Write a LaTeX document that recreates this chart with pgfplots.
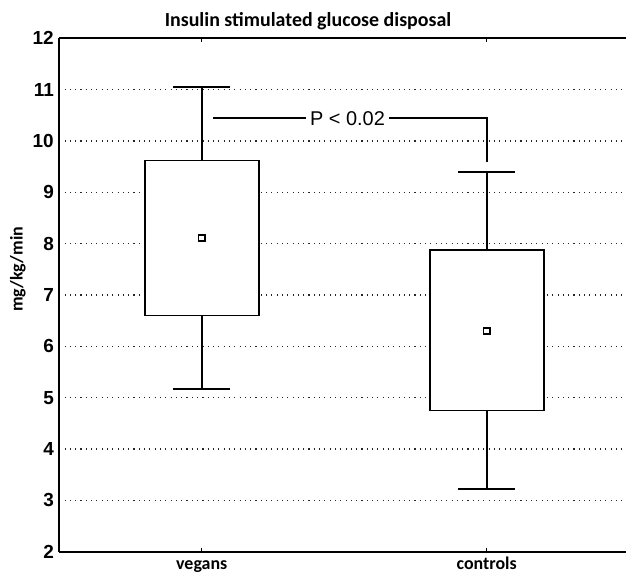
\documentclass[border=0pt]{standalone}
\usepackage{fontspec}
\setmainfont{Carlito}
\newfontfamily\arialf{Liberation Sans}
\usepackage{pgfplots}
\pgfplotsset{compat=1.18}

\begin{document}
\begin{tikzpicture}
\begin{axis}[
  scale only axis,
  width=566.7bp, height=513.4bp,
  xmin=-0.5, xmax=1.489,
  ymin=2, ymax=12,
  clip=false,
  unbounded coords=jump,
  axis y line*=left,
  axis line style={line width=2bp, black},
  xtick={0,1},
  xticklabels={vegans,controls},
  ytick={2,3,...,12},
  tick align=inside,
  major tick length=4bp,
  xtick style={line width=1.2bp, black},
  ytick style={draw=none},
  ymajorgrids,
  grid style={black!85, line width=1.1bp, dash pattern=on 1.1bp off 4.2bp},
  /pgf/number format/assume math mode=true,
  yticklabel style={font=\arialf\bfseries\fontsize{19}{19}\selectfont, xshift=-2bp},
  xticklabel style={font=\bfseries\fontsize{18}{18}\selectfont, anchor=base, yshift=-17.5bp},
  box/.style={draw=black, fill=white, line width=1.9bp, mark=none, line join=miter},
  whisker/.style={draw=black, line width=1.9bp, mark=none},
]
  % vegans: whiskers 5.17 / 11.05, quartiles 6.60 / 9.62, mean 8.11
  \addplot[whisker] coordinates {
    (0,9.62) (0,11.05) (0,nan) (-0.1,11.05) (0.1,11.05) (0,nan)
    (0,6.60) (0,5.17) (0,nan) (-0.1,5.17) (0.1,5.17)};
  \addplot[box] coordinates {
    (-0.2,6.60) (0.2,6.60) (0.2,9.62) (-0.2,9.62) (-0.2,6.60) (0.2,6.60)};

  % controls: whiskers 3.23 / 9.39, quartiles 4.75 / 7.87, mean 6.30
  \addplot[whisker] coordinates {
    (1,7.87) (1,9.39) (1,nan) (0.9,9.39) (1.1,9.39) (1,nan)
    (1,4.75) (1,3.23) (1,nan) (0.9,3.23) (1.1,3.23)};
  \addplot[box] coordinates {
    (0.8,4.75) (1.2,4.75) (1.2,7.87) (0.8,7.87) (0.8,4.75) (1.2,4.75)};

  % group means
  \addplot[only marks, mark=square*, mark size=3.2bp,
    mark options={fill=white, draw=black, line width=1.6bp, solid}]
    coordinates {(0,8.11) (1,6.30)};

  % significance bracket
  \draw[line width=1.9bp, black] (axis cs:0.041,10.45) -| (axis cs:1,9.59);
  \node[fill=white, inner xsep=4bp, inner ysep=2bp, anchor=base, yshift=-7.2bp,
        font=\arialf\fontsize{20}{20}\selectfont]
    at (axis cs:0.5116,10.45) {P < 0.02};

  % title and y-axis label
  \node[anchor=base, font=\bfseries\fontsize{20}{20}\selectfont]
    at ([yshift=11.6bp]axis cs:0.373,12) {Insulin stimulated glucose disposal};
  \node[anchor=base, rotate=90, font=\bfseries\fontsize{18}{18}\selectfont]
    at ([xshift=-36.6bp]axis cs:-0.5,7.5) {mg/kg/min};

  \coordinate (bl) at (rel axis cs:0,0);
  \coordinate (tr) at (rel axis cs:1,1);
\end{axis}
\pgfresetboundingbox
\path[use as bounding box] ([xshift=-59.3bp,yshift=-21.3bp]bl) rectangle ([yshift=38.3bp]tr);
\end{tikzpicture}
\end{document}
